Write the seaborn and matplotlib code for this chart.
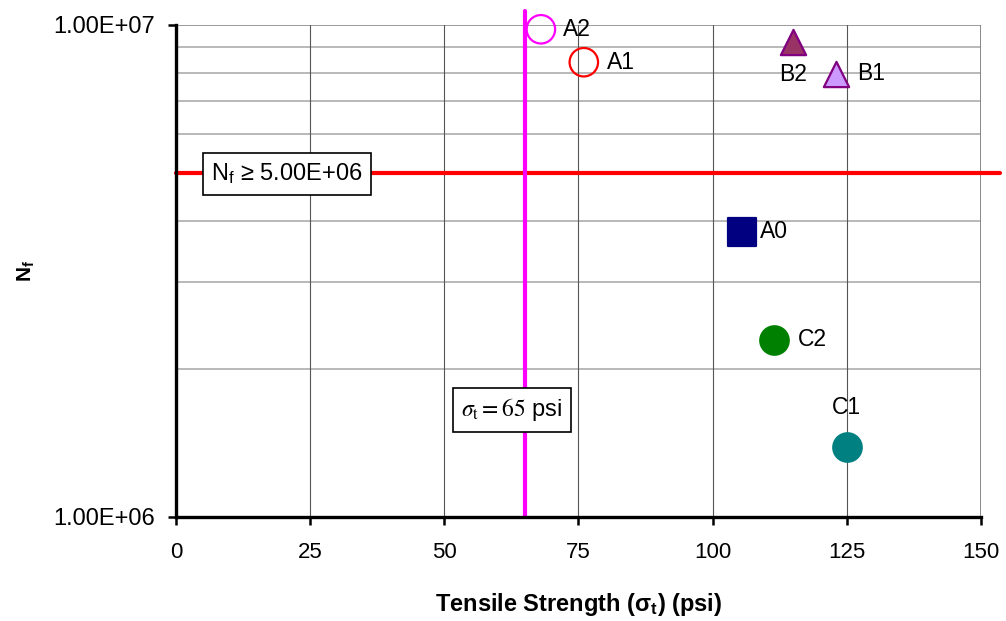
import matplotlib
matplotlib.use("Agg")
import matplotlib.pyplot as plt
from matplotlib.ticker import FixedLocator, NullFormatter
import seaborn as sns

# Specimen results: tensile strength (psi) vs. cycles to failure
labels = ["A2", "A1", "B2", "B1", "A0", "C2", "C1"]
strength = [68, 76, 115, 123, 105.5, 111.5, 125]
cycles = [9.8e6, 8.4e6, 9.25e6, 7.95e6, 3.8e6, 2.29e6, 1.39e6]

nf_limit = 5.0e6
sigma_limit = 65

x_ticks = [0, 25, 50, 75, 100, 125, 150]
y_ticks = [1e6, 1e7]
y_tick_labels = ["1.00E+06", "1.00E+07"]
y_minor = [2e6, 3e6, 4e6, 5e6, 6e6, 7e6, 8e6, 9e6]

# marker styling per specimen
markers = ["o", "o", "^", "^", "s", "o", "o"]
faces = ["none", "none", "#993366", "#CC99FF", "#000080", "#008000", "#008080"]
edges = ["#FF00FF", "#FF0000", "#800080", "#800080", "#000080", "#008000", "#008080"]
sizes = [420, 420, 330, 330, 400, 420, 420]
label_offsets = [(22, 0, "left"), (23, 0, "left"), (0, -33, "center"), (21, 0, "left"),
                 (18, 0, "left"), (24, 0, "left"), (0, 39, "center")]

sns.set_style("white")
plt.rcParams["font.family"] = ["Liberation Sans", "DejaVu Sans"]
plt.rcParams["mathtext.fontset"] = "custom"
plt.rcParams["mathtext.rm"] = "Liberation Sans"
plt.rcParams["mathtext.it"] = "Liberation Sans:italic"
plt.rcParams["mathtext.bf"] = "Liberation Sans:bold"
for key in ["text.color", "axes.labelcolor", "xtick.color", "ytick.color"]:
    plt.rcParams[key] = "black"

fig = plt.figure(figsize=(10.06, 6.21), dpi=100)
ax = fig.add_axes([0.175, 0.1675, 0.8, 0.7923])

ax.set_yscale("log")
ax.set_xlim(0, 150)
ax.set_ylim(1e6, 1e7)

# grid: horizontal at minor decades, vertical at x ticks
for yv in y_minor:
    ax.axhline(yv, color="#A6A6A6", lw=1.1, zorder=0)
ax.axhline(1e7, color="#808080", lw=1.1, zorder=0)
for xv in x_ticks[1:-1]:
    ax.axvline(xv, color="#555555", lw=0.8, zorder=0)
ax.axvline(150, color="#808080", lw=1.3, zorder=0)

# limit lines
ax.axhline(nf_limit, xmin=0, xmax=1.024, color="#FF0000", lw=3, clip_on=False, zorder=2)
ax.axvline(sigma_limit, ymin=0, ymax=1.028, color="#FF00FF", lw=3, clip_on=False, zorder=2)

for i, lab in enumerate(labels):
    sns.scatterplot(x=[strength[i]], y=[cycles[i]], marker=markers[i], s=sizes[i],
                    facecolor=faces[i], edgecolor=edges[i], linewidth=1.6,
                    ax=ax, zorder=4, clip_on=False, legend=False)
    dx, dy, ha = label_offsets[i]
    ax.annotate(lab, (strength[i], cycles[i]), xytext=(dx, dy),
                textcoords="offset pixels", ha=ha, va="center",
                fontsize=16.5, color="black", zorder=5)

box = dict(boxstyle="square,pad=0.35", facecolor="white", edgecolor="black", lw=1.2)
ax.text(0.138, 0.697, r"N$_\mathrm{f}$ ≥ 5.00E+06", transform=ax.transAxes,
        ha="center", va="center", fontsize=17, bbox=box, zorder=6)
t = ax.text(0.417, 0.2175, r"$\sigma_\mathrm{t} = 65$ psi", transform=ax.transAxes,
            ha="center", va="center", fontsize=17, bbox=box, zorder=6)
t.set_math_fontfamily("stix")

ax.xaxis.set_major_locator(FixedLocator(x_ticks))
ax.set_xticklabels([str(v) for v in x_ticks])
ax.yaxis.set_major_locator(FixedLocator(y_ticks))
ax.set_yticklabels(y_tick_labels)
ax.yaxis.set_minor_locator(FixedLocator(y_minor))
ax.yaxis.set_minor_formatter(NullFormatter())

ax.tick_params(axis="both", which="major", direction="out", length=6, width=1.8,
               color="black", labelcolor="black")
ax.tick_params(axis="y", which="major", labelsize=17, pad=9)
ax.tick_params(axis="y", which="minor", length=0)
ax.tick_params(axis="x", which="major", labelsize=16, pad=12)
ax.tick_params(bottom=True, left=True, top=False, right=False)

for side in ["left", "bottom"]:
    ax.spines[side].set_color("black")
    ax.spines[side].set_linewidth(2.4)
    ax.spines[side].set_zorder(3)
ax.spines["top"].set_visible(False)
ax.spines["right"].set_visible(False)

ax.set_xlabel(r"Tensile Strength (σ$_\mathbf{t}$) (psi)", fontsize=17, fontweight="bold",
              labelpad=20, color="black")
ax.set_ylabel(r"N$_\mathbf{f}$", fontsize=15, fontweight="bold", labelpad=12, color="black")

fig.savefig("out.png", dpi=100)
